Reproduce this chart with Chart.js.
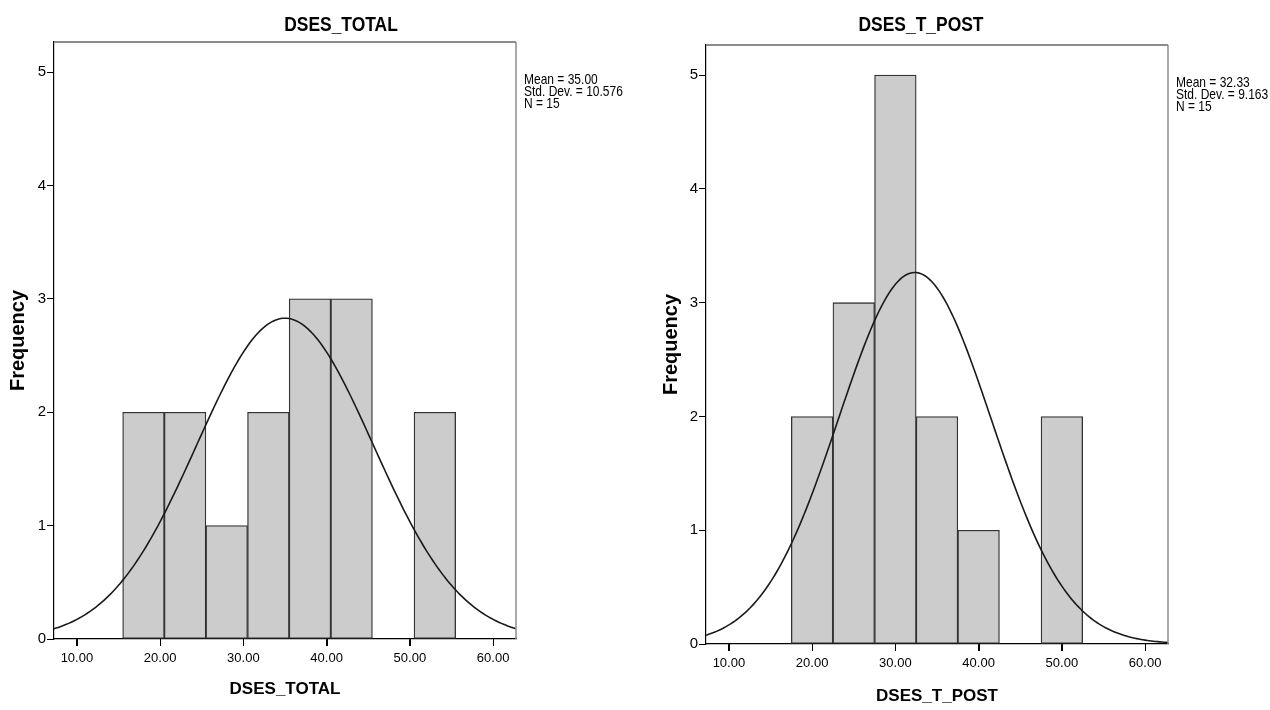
<!DOCTYPE html>
<html>
<head>
<meta charset="utf-8">
<script src="https://cdn.jsdelivr.net/npm/chart.js@4.4.1/dist/chart.umd.min.js"></script>
<style>
  html, body { margin: 0; padding: 0; background: #fff; }
  #wrap { position: relative; width: 1270px; height: 710px; overflow: hidden; }
  .pane { position: absolute; top: 0; width: 635px; height: 710px; }
</style>
</head>
<body>
<div id="wrap">
  <div class="pane" style="left:0"><canvas id="c1" width="635" height="710"></canvas></div>
  <div class="pane" style="left:635px"><canvas id="c2" width="635" height="710"></canvas></div>
</div>
<script>
// ---- data ----
const totalTitle = 'DSES_TOTAL';
const totalBinCenters = [18, 23, 28, 33, 38, 43, 48, 53];
const totalCounts     = [2, 2, 1, 2, 3, 3, 0, 2];
const totalStats      = ['Mean = 35.00', 'Std. Dev. = 10.576', 'N = 15'];
const totalMean = 35.00, totalSD = 10.576, totalN = 15;

const postTitle = 'DSES_T_POST';
const postBinCenters = [20, 25, 30, 35, 40, 45, 50];
const postCounts     = [2, 3, 5, 2, 1, 0, 2];
const postStats      = ['Mean = 32.33', 'Std. Dev. = 9.163', 'N = 15'];
const postMean = 32.33, postSD = 9.163, postN = 15;

const binWidth = 5;
const xTicks = [10, 20, 30, 40, 50, 60];
const yTicks = [0, 1, 2, 3, 4, 5];
const xMin = 7.25, xMax = 62.75, yMax = 5.265;

const NARROW = '"Liberation Sans Narrow", "Arial Narrow", "Liberation Sans", Arial, sans-serif';
const SANS = '"Liberation Sans", Arial, sans-serif';

// fitted normal curve (SPSS overlay) from the stated mean / sd / n
function normalCurve(mean, sd, n) {
  const pts = [];
  const k = n * binWidth / (sd * Math.sqrt(2 * Math.PI));
  for (let x = xMin; x <= xMax + 1e-9; x += 0.25) {
    const z = (x - mean) / sd;
    pts.push({ x: x, y: k * Math.exp(-0.5 * z * z) });
  }
  return pts;
}

function narrowText(ctx, text, x, y, sx, align) {
  ctx.save();
  ctx.translate(x, y);
  ctx.scale(sx, 1);
  ctx.textAlign = align;
  ctx.fillText(text, 0, 0);
  ctx.restore();
}

function makeChart(id, cfg) {
  const bars = cfg.centers.map((c, i) => ({ x: c, y: cfg.counts[i] })).filter(p => p.y > 0);
  const decor = {
    id: 'decor',
    afterDraw(chart) {
      const { ctx, chartArea: a } = chart;
      const xs = chart.scales.x;
      ctx.save();
      // x-axis tick marks from the library's x scale
      ctx.strokeStyle = '#000';
      ctx.lineWidth = 1;
      xTicks.forEach(v => {
        const px = Math.round(xs.getPixelForValue(v)) + 0.5;
        ctx.beginPath();
        ctx.moveTo(px, a.bottom);
        ctx.lineTo(px, a.bottom + 7);
        ctx.stroke();
      });
      // grey top and right frame lines
      ctx.strokeStyle = '#8c8c8c';
      ctx.lineWidth = 2;
      ctx.beginPath();
      ctx.moveTo(a.left, a.top); ctx.lineTo(a.right, a.top);
      ctx.stroke();
      ctx.lineWidth = 1.5;
      ctx.beginPath();
      ctx.moveTo(a.right, a.top); ctx.lineTo(a.right, a.bottom);
      ctx.stroke();
      ctx.fillStyle = '#000';
      ctx.textBaseline = 'middle';
      ctx.font = 'bold 21px ' + SANS;
      narrowText(ctx, cfg.title, cfg.titleX, 25, 0.83, 'center');
      ctx.font = '15px ' + SANS;
      cfg.stats.forEach((s, i) => narrowText(ctx, s, a.right + 8, a.top + 38 + i * 12, 0.8, 'left'));
      ctx.restore();
    }
  };
  return new Chart(document.getElementById(id), {
    type: 'bar',
    data: {
      datasets: [
        {
          type: 'line',
          data: normalCurve(cfg.mean, cfg.sd, cfg.n),
          borderColor: '#1a1a1a',
          borderWidth: 1.6,
          pointRadius: 0,
          fill: false,
          tension: 0,
          order: 0
        },
        {
          type: 'bar',
          data: bars,
          backgroundColor: '#cccccc',
          borderColor: '#333333',
          borderWidth: 1.3,
          borderSkipped: false,
          barPercentage: 1,
          categoryPercentage: 1,
          order: 1
        }
      ]
    },
    options: {
      responsive: false,
      devicePixelRatio: 1,
      animation: false,
      layout: { padding: { left: 0, top: cfg.padTop, right: cfg.padRight, bottom: 0 } },
      plugins: { legend: { display: false }, tooltip: { enabled: false }, title: { display: false } },
      scales: {
        x: {
          type: 'linear',
          offset: false,
          min: xMin, max: xMax,
          afterFit(s) { s.height = cfg.xAxisH; },
          afterBuildTicks(s) { s.ticks = xTicks.map(v => ({ value: v })); },
          ticks: {
            includeBounds: false,
            color: '#000',
            padding: 5,
            maxRotation: 0,
            autoSkip: false,
            font: { family: NARROW, size: 13 },
            callback: v => Number(v).toFixed(2)
          },
          grid: { display: true, offset: false, drawOnChartArea: false, drawTicks: true, tickLength: 7, color: '#000', lineWidth: 1 },
          border: { display: true, color: '#000', width: 1.2 },
          title: {
            display: true,
            text: cfg.title,
            color: '#000',
            font: { family: NARROW, size: 17, weight: 'bold' },
            padding: { top: 0, bottom: cfg.xTitlePad }
          }
        },
        y: {
          type: 'linear',
          min: 0, max: yMax,
          afterFit(s) { s.width = cfg.yAxisW; },
          afterBuildTicks(s) { s.ticks = yTicks.map(v => ({ value: v })); },
          ticks: {
            includeBounds: false,
            color: '#000',
            padding: 1,
            autoSkip: false,
            font: { family: NARROW, size: 15 },
            callback: v => String(v)
          },
          grid: { display: true, offset: false, drawOnChartArea: false, drawTicks: true, tickLength: 7, color: '#000', lineWidth: 1 },
          border: { display: true, color: '#000', width: 1.2 },
          title: {
            display: true,
            text: 'Frequency',
            color: '#000',
            font: { family: SANS, size: 20, weight: 'bold' },
            padding: { top: cfg.yTitlePad, bottom: 0 }
          }
        }
      }
    },
    plugins: [decor]
  });
}

makeChart('c1', {
  title: totalTitle, centers: totalBinCenters, counts: totalCounts, stats: totalStats,
  mean: totalMean, sd: totalSD, n: totalN,
  padTop: 42, padRight: 119, xAxisH: 71, yAxisW: 54, xTitlePad: 10, yTitlePad: 6, titleX: 341
});
makeChart('c2', {
  title: postTitle, centers: postBinCenters, counts: postCounts, stats: postStats,
  mean: postMean, sd: postSD, n: postN,
  padTop: 45, padRight: 102, xAxisH: 66, yAxisW: 71, xTitlePad: 3, yTitlePad: 24, titleX: 286
});
</script>
</body>
</html>
